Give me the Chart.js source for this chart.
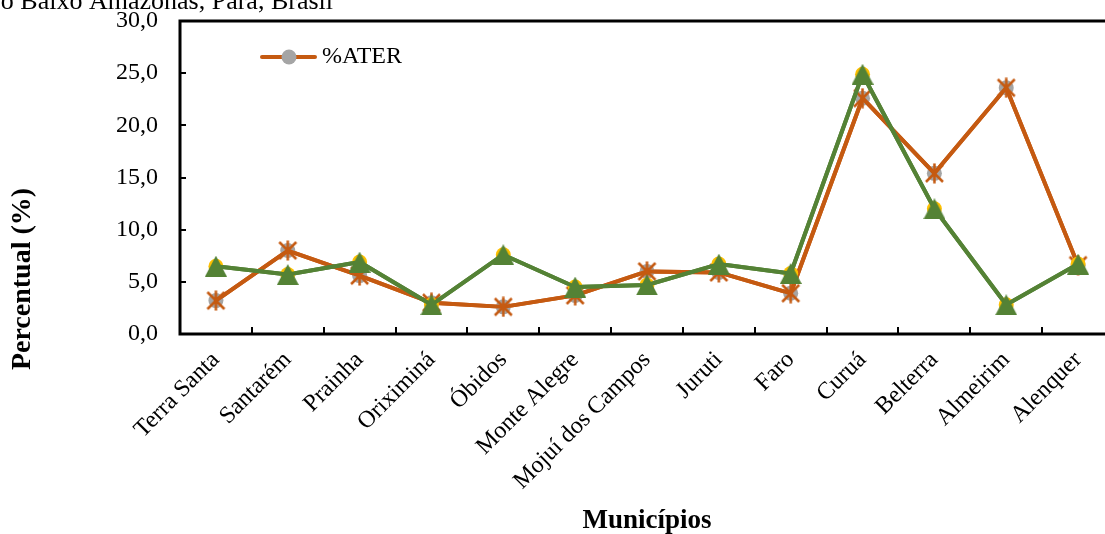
<!DOCTYPE html>
<html>
<head>
<meta charset="utf-8">
<script src="https://cdn.jsdelivr.net/npm/chart.js@4/dist/chart.umd.min.js"></script>
<style>
  html, body { margin: 0; padding: 0; background: #fff; overflow: hidden; }
  #wrap { position: relative; width: 1105px; height: 534px; overflow: hidden; }
  #wrap canvas { position: absolute; left: 0; top: 0; }
</style>
</head>
<body>
<div id="wrap"><canvas id="grafico" width="1130" height="534"></canvas></div>
<script>
// Municípios do eixo X
const municipios = ['Terra Santa', 'Santarém', 'Prainha', 'Oriximiná', 'Óbidos', 'Monte Alegre',
  'Mojuí dos Campos', 'Juruti', 'Faro', 'Curuá', 'Belterra', 'Almeirim', 'Alenquer'];

// Percentuais (%) por município
const percATER = [3.2, 8.0, 5.6, 3.0, 2.6, 3.7, 6.0, 5.9, 3.9, 22.6, 15.4, 23.6, 6.6];
const percSerie2 = [6.5, 5.7, 6.9, 2.8, 7.6, 4.5, 4.7, 6.7, 5.8, 24.9, 12.0, 2.8, 6.7];

// Marcas do eixo Y
const yTicks = [0, 5, 10, 15, 20, 25, 30];

const SERIF = "'Liberation Serif', 'Times New Roman', serif";
const LARANJA = '#C55A11';
const VERDE = '#548235';
const CINZA = '#A5A5A5';
const AMARELO = '#FFC000';

// Marcador asterisco (X com traço vertical)
function asterisco(tam, cor) {
  const c = document.createElement('canvas');
  c.width = tam; c.height = tam;
  const g = c.getContext('2d');
  g.strokeStyle = cor; g.lineWidth = 2.5;
  g.beginPath();
  g.moveTo(2, 2); g.lineTo(tam - 2, tam - 2);
  g.moveTo(tam - 2, 2); g.lineTo(2, tam - 2);
  g.moveTo(tam / 2, 0.5); g.lineTo(tam / 2, tam - 0.5);
  g.stroke();
  return c;
}

// Marcador triângulo centrado na caixa
function triangulo(larg, alt, cor) {
  const c = document.createElement('canvas');
  c.width = larg; c.height = alt;
  const g = c.getContext('2d');
  g.fillStyle = cor;
  g.beginPath();
  g.moveTo(larg / 2, 0); g.lineTo(larg, alt); g.lineTo(0, alt);
  g.closePath(); g.fill();
  return c;
}

const marcaAsterisco = asterisco(21, LARANJA);
const marcaTriangulo = triangulo(22, 21, VERDE);

// Moldura da área de plotagem, marcas internas dos eixos, títulos e legenda
const moldura = {
  id: 'moldura',
  beforeDatasetsDraw(chart) {
    const { ctx, chartArea: a, scales: { x, y } } = chart;
    ctx.save();
    ctx.strokeStyle = '#000';
    ctx.lineWidth = 3;
    ctx.strokeRect(a.left, a.top, a.right - a.left, a.bottom - a.top);
    ctx.lineWidth = 2;
    ctx.beginPath();
    y.ticks.forEach(t => {
      const py = Math.round(y.getPixelForValue(t.value));
      ctx.moveTo(a.left, py); ctx.lineTo(a.left + 6, py);
    });
    for (let i = 1; i < x.ticks.length; i++) {
      const px = Math.round((x.getPixelForTick(i - 1) + x.getPixelForTick(i)) / 2);
      ctx.moveTo(px, a.bottom); ctx.lineTo(px, a.bottom - 7);
    }
    ctx.stroke();
    ctx.restore();
  },
  afterDraw(chart) {
    const { ctx, chartArea: a } = chart;
    ctx.save();
    ctx.fillStyle = '#000';
    // título (parte superior)
    ctx.font = '26px ' + SERIF;
    ctx.textAlign = 'right';
    ctx.textBaseline = 'alphabetic';
    ctx.fillText('o Baixo Amazonas, Pará, Brasil', 333, 9);
    // título do eixo Y
    ctx.save();
    ctx.translate(23, 279);
    ctx.rotate(-Math.PI / 2);
    ctx.font = 'bold 28px ' + SERIF;
    ctx.textAlign = 'center';
    ctx.textBaseline = 'middle';
    ctx.fillText('Percentual (%)', 0, 0);
    ctx.restore();
    // legenda
    const ds = chart.data.datasets[3];
    const lx = a.left + 82, ly = a.top + 36;
    ctx.strokeStyle = ds.borderColor;
    ctx.lineWidth = 4;
    ctx.lineCap = 'round';
    ctx.beginPath(); ctx.moveTo(lx, ly); ctx.lineTo(lx + 53, ly); ctx.stroke();
    ctx.fillStyle = ds.pointBackgroundColor;
    ctx.beginPath(); ctx.arc(lx + 27, ly, 7.5, 0, Math.PI * 2); ctx.fill();
    ctx.fillStyle = '#000';
    ctx.font = '24px ' + SERIF;
    ctx.textAlign = 'left';
    ctx.textBaseline = 'middle';
    ctx.fillText(ds.label, lx + 60, ly);
    ctx.restore();
  }
};

const base = { tension: 0, borderWidth: 4, borderJoinStyle: 'round', borderCapStyle: 'round', fill: false };

new Chart(document.getElementById('grafico'), {
  type: 'line',
  data: {
    labels: municipios,
    datasets: [
      { ...base, label: 'Série 2', data: percSerie2, borderColor: VERDE,
        pointStyle: marcaTriangulo, pointRadius: 10, order: 0 },
      { ...base, label: 'Série 2 (círculo)', data: percSerie2, borderColor: VERDE,
        pointStyle: 'circle', pointRadius: 7.5, pointBorderWidth: 0,
        pointBackgroundColor: AMARELO, pointBorderColor: AMARELO, order: 1 },
      { ...base, label: '%ATER (asterisco)', data: percATER, borderColor: LARANJA,
        pointStyle: marcaAsterisco, pointRadius: 10, order: 2 },
      { ...base, label: '%ATER', data: percATER, borderColor: LARANJA,
        pointStyle: 'circle', pointRadius: 7.5, pointBorderWidth: 0,
        pointBackgroundColor: CINZA, pointBorderColor: CINZA, order: 3 }
    ]
  },
  options: {
    responsive: false,
    animation: false,
    layout: { padding: { top: 21, right: 16, left: 0, bottom: 0 } },
    plugins: { legend: { display: false }, tooltip: { enabled: false }, title: { display: false } },
    scales: {
      x: {
        type: 'category',
        offset: true,
        grid: { display: false, drawTicks: false },
        border: { display: false },
        ticks: {
          color: '#000', font: { family: SERIF, size: 24 },
          minRotation: 45, maxRotation: 45, autoSkip: false, padding: 12
        },
        title: {
          display: true, text: 'Municípios', color: '#000',
          font: { family: SERIF, size: 27, weight: 'bold', lineHeight: 1.2 },
          padding: { top: 4, bottom: -3 }
        },
        afterFit(s) { s.height = 200; s.paddingLeft = 0; s.paddingRight = 0; s.paddingTop = 0; s.paddingBottom = 0; }
      },
      y: {
        min: 0, max: 30,
        grid: { display: false, drawTicks: false },
        border: { display: false },
        afterBuildTicks(s) { s.ticks = yTicks.map(v => ({ value: v })); },
        ticks: {
          color: '#000', font: { family: SERIF, size: 24 }, padding: 22,
          callback: v => v.toFixed(1).replace('.', ',')
        },
        afterFit(s) { s.width = 180; s.paddingTop = 0; s.paddingBottom = 0; s.paddingLeft = 0; s.paddingRight = 0; }
      }
    }
  },
  plugins: [moldura]
});
</script>
</body>
</html>
